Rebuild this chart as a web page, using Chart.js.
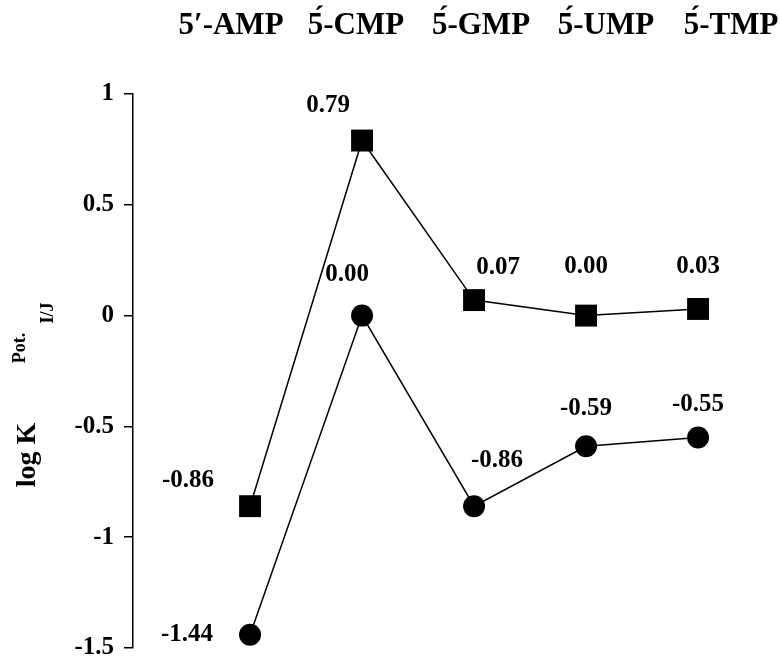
<!DOCTYPE html>
<html><head><meta charset="utf-8">
<script src="https://cdn.jsdelivr.net/npm/chart.js@4.4.1/dist/chart.umd.min.js"></script>
<style>html,body{margin:0;padding:0;background:#fff}#wrap{width:780px;height:666px}</style>
</head><body><div id="wrap"><canvas id="c" width="780" height="666"></canvas></div>
<script>
const categories = ["5′-AMP", "5\u0301-CMP", "5\u0301-GMP", "5\u0301-UMP", "5\u0301-TMP"];
const squareValues = [-0.86, 0.79, 0.07, 0.00, 0.03];
const circleValues = [-1.44, 0.00, -0.86, -0.59, -0.55];
const yTicks = [1, 0.5, 0, -0.5, -1, -1.5];

// label placement (pixel offsets from each point), layout only
const squareLabelOffsets = [[-62,-26],[-34,-35],[24,-33],[0,-49],[0,-42]];
const circleLabelOffsets = [[-63,0],[-15,-41],[23,-46],[0,-38],[0,-33]];

const F = '"Liberation Serif", "Times New Roman", serif';

const valueLabels = {
  id: 'valueLabels',
  afterDatasetsDraw(chart) {
    const ctx = chart.ctx;
    ctx.save();
    ctx.fillStyle = '#000';
    ctx.font = 'bold 25px ' + F;
    ctx.textAlign = 'center';
    ctx.textBaseline = 'middle';
    chart.data.datasets.forEach((ds, di) => {
      const meta = chart.getDatasetMeta(di);
      const offs = ds.labelOffsets;
      meta.data.forEach((el, i) => {
        const v = ds.data[i].y;
        ctx.fillText(v.toFixed(2), el.x + offs[i][0], el.y + offs[i][1]);
      });
    });
    ctx.restore();
  }
};

const yTitle = {
  id: 'yTitle',
  afterDraw(chart) {
    const ctx = chart.ctx;
    ctx.save();
    ctx.fillStyle = '#000';
    ctx.translate(28, 455);
    ctx.rotate(-Math.PI / 2);
    ctx.textAlign = 'center';
    ctx.textBaseline = 'middle';
    ctx.font = 'bold 28px ' + F;
    ctx.fillText('log K', 0, 0);
    ctx.font = 'bold 18px ' + F;
    ctx.fillText('Pot.', 107, -8);
    ctx.fillText('I/J', 142, 20);
    ctx.restore();
  }
};

new Chart(document.getElementById('c'), {
  type: 'line',
  data: {
    datasets: [
      {
        data: squareValues.map((v, i) => ({x: i, y: v})),
        labelOffsets: squareLabelOffsets,
        borderColor: '#000', backgroundColor: '#000', borderWidth: 1.5,
        pointStyle: 'rect', pointRadius: 15.5, pointBorderWidth: 0, tension: 0
      },
      {
        data: circleValues.map((v, i) => ({x: i, y: v})),
        labelOffsets: circleLabelOffsets,
        borderColor: '#000', backgroundColor: '#000', borderWidth: 1.5,
        pointStyle: 'circle', pointRadius: 11, pointBorderWidth: 0, tension: 0
      }
    ]
  },
  options: {
    responsive: false,
    animation: false,
    layout: {padding: {left: 0, right: 20, top: 0, bottom: 18}},
    plugins: {legend: {display: false}, tooltip: {enabled: false}},
    scales: {
      x: {type: 'linear', min: -1.045, max: 4.553, display: false},
      xTop: {
        type: 'linear', position: 'top', min: -0.784, max: 4.232,
        afterFit: s => { s.height = 94; s.paddingLeft = 0; s.paddingRight = 0; },
        afterBuildTicks: s => { s.ticks = categories.map((_, i) => ({value: i})); },
        border: {display: false},
        grid: {display: false, drawTicks: false},
        ticks: {color: '#000', font: {family: F, size: 31, weight: 'bold'}, padding: 49,
                maxRotation: 0, autoSkip: false, callback: v => categories[v]}
      },
      y: {
        min: -1.5, max: 1, position: 'left',
        afterFit: s => { s.width = 133; s.paddingTop = 0; s.paddingBottom = 0; },
        afterBuildTicks: s => { s.ticks = yTicks.map(v => ({value: v})); },
        border: {display: true, color: '#000', width: 1.5},
        grid: {display: true, drawOnChartArea: false, drawTicks: true, tickLength: 9, color: '#000', lineWidth: 1.5},
        ticks: {color: '#000', font: {family: F, size: 25, weight: 'bold'}, padding: 10, callback: v => String(v)}
      }
    }
  },
  plugins: [valueLabels, yTitle]
});
</script>
</body></html>
